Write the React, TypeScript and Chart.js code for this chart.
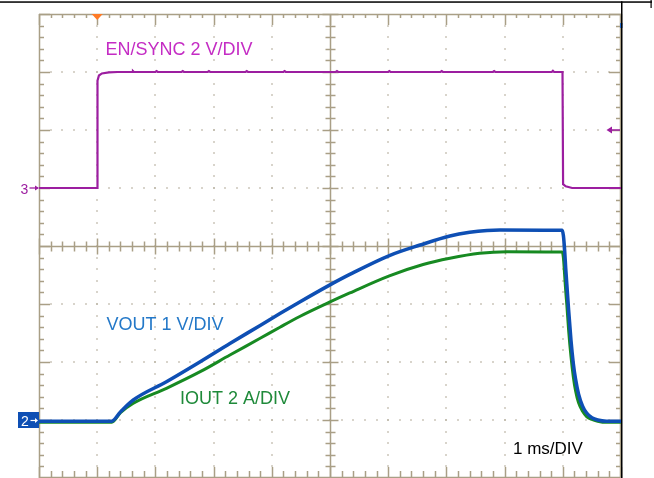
import React, { useEffect, useRef } from "react";
import { Chart, registerables } from "chart.js";

Chart.register(...registerables);

// Time base: 1 ms/div, trigger (t = 0) one division from the left edge
const timeTicks = [-1, 0, 1, 2, 3, 4, 5, 6, 7, 8, 9];
// Vertical divisions (8 divisions on screen)
const divTicks = [-4, -3, -2, -1, 0, 1, 2, 3, 4];

// EN/SYNC (V), 2 V/div, ground marker at +1 div above center
const enTime = [
  -1, 0, 0.005, 0.03, 0.08, 0.2, 0.35,
  0.6, 0.615, 0.63, 1.0, 1.02, 1.04, 1.45, 1.47, 1.49, 1.9, 1.92, 1.94,
  2.55, 2.57, 2.59, 3.2, 3.22, 3.24, 4.1, 4.12, 4.14, 5.0, 5.02, 5.04,
  5.9, 5.92, 5.94, 6.8, 6.82, 6.84, 7.81, 7.83, 7.85, 7.995, 8.005, 8.05, 8.16, 9,
];
const enVolts = [
  0, 0, 3.7, 3.88, 3.95, 3.99, 4.0,
  4.0, 4.03, 4.0, 4.0, 4.03, 4.0, 4.0, 4.03, 4.0, 4.0, 4.03, 4.0,
  4.0, 4.03, 4.0, 4.0, 4.03, 4.0, 4.0, 4.03, 4.0, 4.0, 4.03, 4.0,
  4.0, 4.03, 4.0, 4.0, 4.03, 4.0, 4.0, 4.04, 4.0, 4.0, 0.13, 0.06, 0, 0,
];

// VOUT (V), 1 V/div, ground marker at -3 div
const voutTime = [
  -1, 0.25, 0.4, 0.62, 1.19, 1.77, 2.28, 2.8, 3.14, 3.48, 4.0, 4.34, 5.02, 5.55,
  6.06, 6.4, 6.7, 6.92, 7.99, 8.01, 8.03, 8.05, 8.07, 8.1, 8.14, 8.18, 8.22, 8.27, 8.34, 8.41, 8.5, 8.6, 8.75, 9,
];
const voutVolts = [
  -0.02, -0.02, 0.14, 0.345, 0.66, 1.005, 1.32, 1.63, 1.835, 2.035, 2.33, 2.51, 2.835, 3.017,
  3.172, 3.236, 3.268, 3.276, 3.27, 3.18, 2.95, 2.62, 2.33, 1.9, 1.38, 0.98, 0.7, 0.45, 0.24, 0.12, 0.04, 0.0, -0.02, -0.02,
];

// IOUT (A), 2 A/div, ground marker at -3 div
const ioutTime = [
  -1, 0.25, 0.4, 0.62, 1.19, 1.77, 2.28, 2.8, 3.14, 3.48, 4.0, 4.34, 5.02,
  5.6, 6.06, 6.57, 7.04, 7.99, 8.01, 8.03, 8.05, 8.07, 8.1, 8.14, 8.18, 8.22, 8.27, 8.34, 8.41, 8.5, 8.6, 8.75, 9,
];
const ioutAmps = [
  -0.08, -0.08, 0.25, 0.576, 1.093, 1.666, 2.241, 2.817, 3.2, 3.57, 4.07, 4.38, 4.97,
  5.36, 5.576, 5.748, 5.803, 5.79, 5.6, 5.05, 4.45, 3.95, 3.1, 2.2, 1.5, 1.0, 0.6, 0.3, 0.12, 0.02, -0.04, -0.08, -0.08,
];

const TAN = "#a99f86";
const DOT = "#bab3a3";
const EN_COLOR = "#9c1ea0";
const EN_TEXT = "#c42cc4";
const VOUT_COLOR = "#0e4fb4";
const VOUT_TEXT = "#2378c8";
const IOUT_COLOR = "#178a22";
const IOUT_TEXT = "#1f8a3a";
const FONT = "'Liberation Sans', Arial, sans-serif";

const scopePlugin = {
  id: "scopeGrid",
  beforeDatasetsDraw(chart: any) {
    const { ctx, chartArea, scales } = chart;
    const { left, right, top, bottom } = chartArea;
    const xs = scales.x;
    const ys = scales.yDiv;
    const mx = (xs.getPixelForValue(timeTicks[1]) - xs.getPixelForValue(timeTicks[0])) / 5;
    const my = (ys.getPixelForValue(divTicks[0]) - ys.getPixelForValue(divTicks[1])) / 5;
    const cx = xs.getPixelForValue(4);
    const cy = ys.getPixelForValue(0);
    ctx.save();
    ctx.fillStyle = DOT;
    timeTicks.forEach((t) => {
      if (t === timeTicks[0] || t === timeTicks[timeTicks.length - 1] || t === 4) return;
      const px = Math.round(xs.getPixelForValue(t));
      for (let k = 1; k < 40; k++) {
        const py = Math.round(top + k * my);
        ctx.fillRect(px - 0.75, py - 0.75, 1.5, 1.5);
      }
    });
    divTicks.forEach((d) => {
      if (d === -4 || d === 4 || d === 0) return;
      const py = Math.round(ys.getPixelForValue(d));
      for (let k = 1; k < 50; k++) {
        const px = Math.round(left + k * mx);
        ctx.fillRect(px - 0.75, py - 0.75, 1.5, 1.5);
      }
    });
    ctx.strokeStyle = TAN;
    ctx.lineWidth = 1.5;
    const line = (x1: number, y1: number, x2: number, y2: number) => {
      ctx.beginPath();
      ctx.moveTo(x1, y1);
      ctx.lineTo(x2, y2);
      ctx.stroke();
    };
    line(left + 0.5, top, left + 0.5, bottom);
    line(left, top + 0.5, right, top + 0.5);
    line(right - 0.5, top, right - 0.5, bottom);
    line(left, bottom - 0.5, right, bottom - 0.5);
    for (let k = 0; k <= 50; k++) {
      const px = Math.round(left + k * mx) + 0.5;
      const major = k % 5 === 0;
      line(px, top, px, top + (major ? 11 : 4));
      line(px, bottom, px, bottom - (major ? 11 : 7));
    }
    for (let k = 0; k <= 40; k++) {
      const py = Math.round(top + k * my) + 0.5;
      const major = k % 5 === 0;
      line(left, py, left + (major ? 11 : 5), py);
      line(right, py, right - (major ? 12 : 5), py);
    }
    const ccx = Math.round(cx) + 0.5;
    const ccy = Math.round(cy) + 0.5;
    line(left, ccy, right, ccy);
    line(ccx, top, ccx, bottom);
    for (let k = 0; k <= 50; k++) {
      const px = Math.round(left + k * mx) + 0.5;
      const len = k % 5 === 0 ? 8 : 5;
      line(px, ccy - len, px, ccy + len);
    }
    for (let k = 0; k <= 40; k++) {
      const py = Math.round(top + k * my) + 0.5;
      const len = k % 5 === 0 ? 8 : 5;
      line(ccx - len, py, ccx + len, py);
    }
    ctx.restore();
  },
  afterDatasetsDraw(chart: any) {
    const { ctx, chartArea, scales } = chart;
    const { left, right, top, bottom } = chartArea;
    const xs = scales.x;
    ctx.save();
    ctx.textBaseline = "alphabetic";
    ctx.textAlign = "left";
    ctx.font = `18px ${FONT}`;
    ctx.fillStyle = EN_TEXT;
    ctx.fillText("EN/SYNC 2 V/DIV", 105.5, 55);
    ctx.fillStyle = VOUT_TEXT;
    ctx.fillText("VOUT 1 V/DIV", 106.5, 329.5);
    ctx.fillStyle = IOUT_TEXT;
    ctx.fillText("IOUT 2 A/DIV", 180, 404);
    ctx.fillStyle = "#000";
    ctx.font = `17px ${FONT}`;
    ctx.fillText("1 ms/DIV", 513, 453.5);

    const tx = xs.getPixelForValue(0);
    ctx.fillStyle = "#ff7a26";
    ctx.beginPath();
    ctx.moveTo(tx - 5.5, top);
    ctx.lineTo(tx + 5.5, top);
    ctx.lineTo(tx, top + 6);
    ctx.closePath();
    ctx.fill();

    const enZero = scales.yEn.getPixelForValue(0);
    ctx.fillStyle = EN_COLOR;
    ctx.strokeStyle = EN_COLOR;
    ctx.font = `14px ${FONT}`;
    ctx.fillText("3", 20.5, enZero + 5.5);
    ctx.lineWidth = 1.3;
    ctx.beginPath();
    ctx.moveTo(29.5, enZero);
    ctx.lineTo(left - 1, enZero);
    ctx.stroke();
    ctx.beginPath();
    ctx.moveTo(left, enZero);
    ctx.lineTo(left - 4, enZero - 2.5);
    ctx.lineTo(left - 4, enZero + 2.5);
    ctx.closePath();
    ctx.fill();

    const trig = scales.yEn.getPixelForValue(2);
    ctx.lineWidth = 1.5;
    ctx.beginPath();
    ctx.moveTo(610, trig);
    ctx.lineTo(right - 1, trig);
    ctx.stroke();
    ctx.beginPath();
    ctx.moveTo(606.5, trig);
    ctx.lineTo(612, trig - 3.5);
    ctx.lineTo(612, trig + 3.5);
    ctx.closePath();
    ctx.fill();

    const vZero = scales.yV.getPixelForValue(0);
    ctx.fillStyle = VOUT_COLOR;
    ctx.fillRect(18, vZero - 8, left - 18, 16);
    ctx.fillStyle = "#fff";
    ctx.strokeStyle = "#fff";
    ctx.font = `14px ${FONT}`;
    ctx.fillText("2", 21, vZero + 5.5);
    ctx.lineWidth = 1.2;
    ctx.beginPath();
    ctx.moveTo(30.5, vZero + 0.5);
    ctx.lineTo(36, vZero + 0.5);
    ctx.stroke();
    ctx.beginPath();
    ctx.moveTo(38, vZero + 0.5);
    ctx.lineTo(35, vZero - 2);
    ctx.lineTo(35, vZero + 3);
    ctx.closePath();
    ctx.fill();

    ctx.fillStyle = "#2a6cc8";
    ctx.fillRect(right - 1, top + 9, 2.5, 5);

    ctx.fillStyle = "#000";
    ctx.fillRect(0, 1.3, 652, 1.5);
    ctx.fillRect(right, 1.3, 1.5, bottom);
    ctx.fillRect(650.5, 0, 1.2, 8);
    ctx.restore();
  },
};

export default function App() {
  const canvasRef = useRef<HTMLCanvasElement | null>(null);

  useEffect(() => {
    if (!canvasRef.current) return;
    const chart = new Chart(canvasRef.current, {
      type: "line",
      data: {
        datasets: [
          {
            label: "VOUT",
            data: voutTime.map((t, i) => ({ x: t, y: voutVolts[i] })),
            yAxisID: "yV",
            borderColor: VOUT_COLOR,
            borderWidth: 3.5,
            pointRadius: 0,
            cubicInterpolationMode: "monotone",
            order: 0,
          },
          {
            label: "IOUT",
            data: ioutTime.map((t, i) => ({ x: t, y: ioutAmps[i] })),
            yAxisID: "yI",
            borderColor: IOUT_COLOR,
            borderWidth: 3,
            pointRadius: 0,
            cubicInterpolationMode: "monotone",
            order: 1,
          },
          {
            label: "EN/SYNC",
            data: enTime.map((t, i) => ({ x: t, y: enVolts[i] })),
            yAxisID: "yEn",
            borderColor: EN_COLOR,
            borderWidth: 2.2,
            pointRadius: 0,
            tension: 0,
            order: 2,
          },
        ],
      },
      options: {
        animation: false,
        responsive: true,
        maintainAspectRatio: false,
        layout: { padding: { left: 39, right: 33, top: 14, bottom: 0 } },
        plugins: { legend: { display: false }, tooltip: { enabled: false } },
        events: [],
        scales: {
          x: { type: "linear", min: timeTicks[0], max: timeTicks[timeTicks.length - 1], display: false },
          yDiv: { type: "linear", min: divTicks[0], max: divTicks[divTicks.length - 1], display: false },
          yEn: { type: "linear", min: -10, max: 6, display: false },
          yV: { type: "linear", min: -1, max: 7, display: false },
          yI: { type: "linear", min: -2, max: 14, display: false },
        },
      },
      plugins: [scopePlugin],
    });
    return () => chart.destroy();
  }, []);

  return (
    <div style={{ position: "fixed", left: 0, top: 0, width: 654, height: 478, background: "#fff" }}>
      <canvas ref={canvasRef} />
    </div>
  );
}
